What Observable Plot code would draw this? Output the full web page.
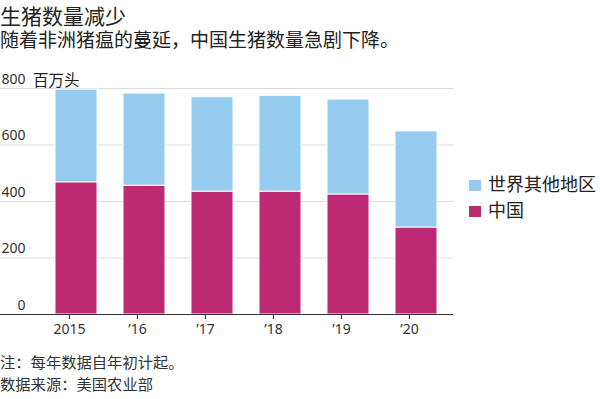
<!DOCTYPE html>
<html>
<head>
<meta charset="utf-8">
<script src="https://cdn.jsdelivr.net/npm/d3@7"></script>
<script src="https://cdn.jsdelivr.net/npm/@observablehq/plot@0.6"></script>
<style>
  html, body { margin: 0; padding: 0; background: #fff; }
  body { width: 600px; height: 399px; position: relative; overflow: hidden;
         font-family: "Noto Sans CJK SC", "Noto Sans", sans-serif; color: #222; }
  .abs { position: absolute; white-space: nowrap; line-height: 1.2; }
  #title { left: 0; top: 4px; font-size: 21px; font-weight: 400; line-height: 1.05; }
  #subtitle { left: 0; top: 28px; font-size: 19px; line-height: 1.15; }
  #unit { left: 33px; top: 70px; font-size: 15.5px; }
  #chart { left: 0; top: 60px; }
  #note { left: 0; top: 352px; font-size: 15.3px; color: #333; }
  #source { left: 0; top: 374px; font-size: 15.3px; color: #333; }
  .leg { position: absolute; left: 469px; font-size: 18px; color: #222; line-height: 1.2; }
  .leg span.sw { display: inline-block; width: 12px; height: 11px; margin-right: 7px; vertical-align: 0px; }
</style>
</head>
<body>
<div id="title" class="abs">生猪数量减少</div>
<div id="subtitle" class="abs">随着非洲猪瘟的蔓延，中国生猪数量急剧下降。</div>
<div id="chart" class="abs"></div>
<div id="unit" class="abs">百万头</div>
<div id="note" class="abs">注：每年数据自年初计起。</div>
<div id="source" class="abs">数据来源：美国农业部</div>
<div id="legend"></div>
<script>
const years = ["2015", "2016", "2017", "2018", "2019", "2020"];
const yearLabels = ["2015", "’16", "’17", "’18", "’19", "’20"];
const china = [468, 456, 435, 435, 425, 308];
const restOfWorld = [328, 326, 334, 339, 336, 340];
const seriesNames = ["中国", "世界其他地区"];
const seriesColors = ["#BC2A74", "#95CBEE"];
const yTicks = [0, 200, 400, 600, 800];

const data = [];
years.forEach((y, i) => {
  data.push({year: y, series: seriesNames[0], value: china[i]});
  data.push({year: y, series: seriesNames[1], value: restOfWorld[i]});
});

const labelOf = Object.fromEntries(years.map((y, i) => [y, yearLabels[i]]));

const chart = Plot.plot({
  width: 600,
  height: 286,
  marginTop: 28,
  marginBottom: 32,
  marginLeft: 0,
  marginRight: 147,
  style: {fontFamily: "'Noto Sans', sans-serif", fontSize: "14px", color: "#333", background: "#fff"},
  x: {type: "band", domain: years, range: [27.6, 464], padding: 0.386, label: null},
  y: {domain: [0, 800], axis: null, label: null},
  color: {domain: seriesNames, range: seriesColors},
  marks: [
    Plot.ruleY(yTicks.filter(d => d > 0), {stroke: "#dcdcdc", strokeWidth: 1}),
    Plot.text(yTicks, {y: d => d, text: d => String(d), frameAnchor: "left", textAnchor: "end",
      dx: 25, dy: -9, fontSize: 14, fill: "#333"}),
    Plot.barY(data, Plot.stackY({x: "year", y: "value", fill: "series", order: seriesNames,
      stroke: "white", strokeWidth: 1})),
    Plot.ruleY([0], {stroke: "#333", strokeWidth: 1.2}),
    Plot.axisX({tickSize: 5, tickPadding: 5, dx: -7, fontSize: 14, stroke: "#333",
      tickFormat: d => labelOf[d], fill: "#333", label: null})
  ]
});
document.getElementById("chart").appendChild(chart);

const legend = document.getElementById("legend");
const legendItems = [seriesNames[1], seriesNames[0]];
legendItems.forEach((name, i) => {
  const div = document.createElement("div");
  div.className = "leg";
  div.style.top = (173 + i * 26) + "px";
  const sw = document.createElement("span");
  sw.className = "sw";
  sw.style.background = seriesColors[seriesNames.indexOf(name)];
  div.appendChild(sw);
  div.appendChild(document.createTextNode(name));
  legend.appendChild(div);
});
</script>
</body>
</html>
